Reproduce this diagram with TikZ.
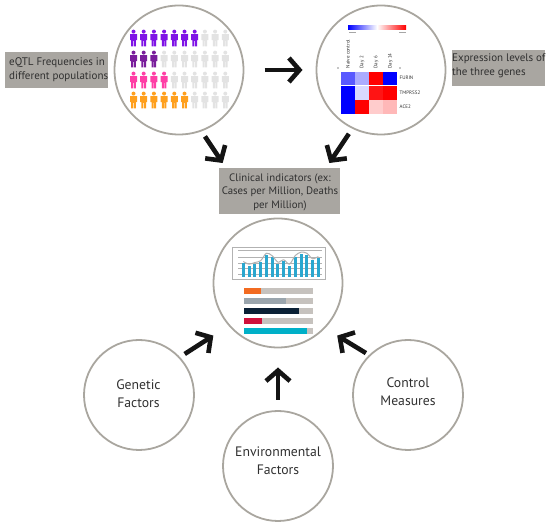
\documentclass[tikz,border=0pt]{standalone}
\usepackage{fontspec}
\setmainfont{PT Sans}
\usepackage{xcolor}
\usetikzlibrary{arrows.meta,calc}
\definecolor{ringgray}{HTML}{A9A69F}
\definecolor{boxgray}{HTML}{A9A6A1}
\definecolor{inkmain}{HTML}{303030}
\definecolor{figgray}{HTML}{E3E3E3}
\definecolor{figviolet}{HTML}{7F14E6}
\definecolor{figplum}{HTML}{7A1E9C}
\definecolor{figpink}{HTML}{FF3FA6}
\definecolor{figorange}{HTML}{FFA01E}
\definecolor{barblue}{HTML}{2BA7CF}
\definecolor{trackgray}{HTML}{C6C2BE}
\definecolor{barorange}{HTML}{F26B21}
\definecolor{barslate}{HTML}{9AA5AD}
\definecolor{barnavy}{HTML}{0A2035}
\definecolor{barcrimson}{HTML}{D0103A}
\definecolor{barteal}{HTML}{00B0C8}
\tikzset{
  every node/.append style={font=\rmfamily,text=inkmain},
  ring/.style={draw=ringgray,line width=1.8pt,circle,inner sep=0pt,outer sep=0pt},
  bigring/.style={ring,minimum size=129pt},
  smallring/.style={ring,minimum size=110pt},
  graybox/.style={fill=boxgray,inner sep=0pt,outer sep=0pt},
  boxlabel/.style={inner sep=0pt,align=left,font=\rmfamily\fontsize{11}{13.6}\selectfont},
  ringlabel/.style={inner sep=0pt,align=center,font=\rmfamily\fontsize{13.7}{17.6}\selectfont},
  genelabel/.style={inner sep=0pt,font=\rmfamily\fontsize{5}{5}\selectfont},
  bigarrow/.style={black!92,line width=4.6pt,-{Straight Barb[length=10.5pt,width=24pt,line width=4.6pt]}},
  personicon/.pic={
    \fill[pic actions] (0,-6.4) circle (2);
    \fill[pic actions] (-3.5,-3.9) -- (3.5,-3.9) -- (3.5,2.2) -- (2.3,2.2) -- (2.3,8.5)
      -- (0.3,8.5) -- (0.3,3) -- (-0.3,3) -- (-0.3,8.5) -- (-2.3,8.5) -- (-2.3,2.2)
      -- (-3.5,2.2) -- cycle;
  }
}
\begin{document}
\begin{tikzpicture}[x=1pt,y=-1pt]
  \useasboundingbox (0,0) rectangle (550,526);
  \node[bigring] (popcircle) at (179,70) {};
  \node[bigring] (exprcircle) at (381,70) {};
  \node[bigring] (trendcircle) at (278,283) {};
  \node[smallring] (geneticcircle) at (139,395) {};
  \node[smallring] (controlcircle) at (408,395) {};
  \node[smallring] (envcircle) at (278,466) {};

  \node[graybox,minimum width=103pt,minimum height=36pt] (popbox) at (56.5,70) {};
  \node[boxlabel,anchor=west] (poplabel) at (9,69.5) {eQTL Frequencies in\\different populations};
  \node[graybox,minimum width=93pt,minimum height=36pt] (exprbox) at (498.5,68) {};
  \node[boxlabel,anchor=west] (exprlabel) at (452,65.5) {Expression levels of\\the three genes};
  \node[graybox,minimum width=121pt,minimum height=46pt] (clinicbox) at (279.5,191) {};
  \node[boxlabel,align=center,font=\rmfamily\fontsize{10.8}{13.6}\selectfont] (cliniclabel) at (280,192) {Clinical indicators (ex:\\Cases per Million, Deaths\\per Million)};

  \node[ringlabel] (geneticlabel) at (138.5,394) {Genetic\\Factors};
  \node[ringlabel] (controllabel) at (408,392) {Control\\Measures};
  \node[ringlabel] (envlabel) at (278,460.5) {Environmental\\Factors};

  \foreach \rowy/\rowcolor/\rowcount in {38/figviolet/7,59/figplum/3,80/figpink/4,100/figorange/6}{
    \foreach \i in {1,...,10}{
      \ifnum\i>\rowcount
        \pic[fill=figgray] at ({133.5+(\i-1)*10.2},\rowy) {personicon};
      \else
        \pic[fill=\rowcolor] at ({133.5+(\i-1)*10.2},\rowy) {personicon};
      \fi
    }
  }

  \shade[left color=blue,right color=red,middle color=white] (348,26) rectangle (406,29.5);
  \draw[black!35,line width=0.7pt] (349,32) -- (356,32) (399,32) -- (406,32);
  \fill[black!45] (338,68) circle (0.8) (400,68) circle (0.8);
  \foreach \col/\name in {0/Naive control,1/Day 2,2/Day 6,3/Day 14}
    \node[genelabel,rotate=90,anchor=west] (day\col) at ({347.8+\col*14.2},68.5) {\name};
  \foreach \col/\row/\heat in {0/0/blue!65,1/0/blue!33,2/0/red,3/0/blue,
      0/1/blue,1/1/blue!15,2/1/red!92,3/1/red,
      0/2/blue,1/2/red,2/2/red!20,3/2/red!28}
    \fill[\heat] ({340.7+\col*14.2},{71.7+\row*14.2}) rectangle ++(13.8,13.8);
  \node[genelabel,anchor=west] (furin) at (399.5,78) {FURIN};
  \node[genelabel,anchor=west] (tmprss) at (399.5,92.5) {TMPRSS2};
  \node[genelabel,anchor=west] (acetwo) at (399.5,107) {ACE2};

  \draw[black!30,line width=0.9pt,fill=white] (232,247) rectangle (325,279);
  \foreach \gridy in {250,257,263,268,274}
    \draw[black!30,line width=0.4pt] (238,\gridy) -- (322,\gridy);
  \foreach \i/\top in {0/263,1/265.7,2/264,3/262.3,4/254.7,5/257.3,6/263.7,7/261.3,8/265.7,9/257,10/253.7,11/254.7,12/260.3,13/258}
    \fill[barblue] ({241.8+\i*5.77},\top) rectangle ++(3,{277.3-\top});
  \draw[black!30,line width=1pt,line join=round] plot[smooth] coordinates {(243.3,261.5) (249,264.2) (254.8,262.5) (260.6,260.8) (266.4,253.2) (272.2,255.8) (278,262.2) (283.7,259.8) (289.5,264.2) (295.3,255.5) (301,252.2) (306.8,253.2) (312.6,258.8) (318.3,256.5)};

  \foreach \bary/\barend/\barcolor in {291/260.7/barorange,301/286/barslate,311/299/barnavy,321/262/barcrimson,331/306.7/barteal}{
    \fill[trackgray] (244,\bary-2.8) rectangle (313,\bary+2.8);
    \fill[\barcolor] (244,\bary-2.8) rectangle (\barend,\bary+2.8);
  }

  \draw[bigarrow,shorten <=21pt,shorten >=14pt] (popcircle) -- (exprcircle);
  \coordinate (clinicleft) at (226,168);
  \coordinate (clinicright) at (326,168);
  \draw[bigarrow,shorten <=7pt,shorten >=6pt] (popcircle.-70) -- (clinicleft);
  \draw[bigarrow,shorten <=7pt,shorten >=6pt] (exprcircle.-116) -- (clinicright);
  \draw[bigarrow,shorten <=6.5pt,shorten >=19pt] (geneticcircle.43) -- (trendcircle.221);
  \draw[bigarrow,shorten <=4.5pt,shorten >=15pt] (controlcircle.134) -- (trendcircle.-44);
  \draw[bigarrow,shorten <=11pt,shorten >=20pt] (envcircle) -- (trendcircle);
\end{tikzpicture}
\end{document}
